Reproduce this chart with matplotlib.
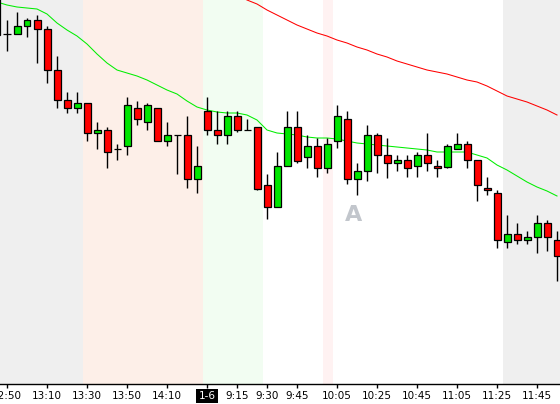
import matplotlib
matplotlib.use("Agg")
import matplotlib.pyplot as plt
import numpy as np

# 5 minute bars, index -1 is the half-hidden bar at the left edge
opens  = [4008, 3966, 3966, 3974, 3980, 3971, 3930, 3900, 3892, 3897, 3867, 3870, 3851, 3854, 3892,
          3878, 3892, 3859, 3865, 3865, 3821, 3889, 3870, 3865, 3884, 3870, 3873, 3815, 3793, 3834,
          3873, 3843, 3854, 3832, 3859, 3881, 3821, 3829, 3865, 3845, 3837, 3840, 3834, 3845, 3834,
          3833, 3851, 3856, 3840, 3812, 3807, 3758, 3766, 3760, 3763, 3777, 3760]
highs  = [4012, 3980, 3988, 3982, 3985, 3974, 3944, 3908, 3908, 3897, 3878, 3873, 3856, 3903, 3899,
          3897, 3892, 3878, 3865, 3884, 3854, 3903, 3889, 3889, 3889, 3881, 3873, 3826, 3848, 3889,
          3889, 3865, 3862, 3862, 3895, 3889, 3837, 3875, 3867, 3862, 3845, 3845, 3848, 3867, 3840,
          3856, 3867, 3859, 3840, 3823, 3810, 3785, 3777, 3769, 3785, 3780, 3769]
lows   = [3965, 3949, 3966, 3963, 3937, 3917, 3892, 3887, 3887, 3859, 3851, 3832, 3840, 3845, 3875,
          3870, 3859, 3854, 3826, 3812, 3807, 3865, 3856, 3856, 3868, 3870, 3810, 3781, 3793, 3834,
          3837, 3832, 3823, 3827, 3852, 3816, 3805, 3819, 3827, 3822, 3829, 3823, 3823, 3829, 3823,
          3832, 3851, 3832, 3799, 3805, 3752, 3752, 3756, 3756, 3747, 3749, 3719]
closes = [3965, 3966, 3974, 3980, 3971, 3930, 3900, 3892, 3897, 3867, 3870, 3848, 3851, 3895, 3881,
          3895, 3859, 3865, 3865, 3821, 3834, 3870, 3865, 3884, 3870, 3870, 3811, 3793, 3834, 3873,
          3839, 3854, 3832, 3856, 3884, 3821, 3829, 3865, 3845, 3837, 3840, 3832, 3845, 3837, 3832,
          3854, 3856, 3840, 3815, 3810, 3760, 3766, 3760, 3763, 3777, 3763, 3744]

ma_fast = [3998, 3995, 3993, 3992, 3991, 3986, 3977, 3970, 3964, 3956, 3946, 3937, 3930, 3927, 3924,
           3920, 3915, 3910, 3906, 3899, 3893, 3890, 3888, 3887, 3887, 3885, 3880, 3870, 3867, 3866,
           3865, 3863, 3862, 3862, 3861, 3859, 3857, 3856, 3855, 3854, 3853, 3852, 3851, 3850, 3848,
           3848, 3848, 3848, 3845, 3842, 3835, 3830, 3824, 3818, 3813, 3809, 3804]
# slow average only shows from bar 23 onward
ma_slow = [4006, 4000, 3996, 3990, 3985, 3980, 3975, 3971, 3967, 3964, 3960, 3957, 3953, 3950, 3946,
           3943, 3939, 3936, 3933, 3930, 3928, 3926, 3923, 3920, 3918, 3914, 3909, 3904, 3901, 3898,
           3894, 3890, 3885]

tick_pos = [0, 4, 8, 12, 16, 20, 23, 26, 29, 33, 37, 41, 45, 49, 53]
tick_labels = ["12:50", "13:10", "13:30", "13:50", "14:10", "1-6", "9:15", "9:30", "9:45",
               "10:05", "10:25", "10:45", "11:05", "11:25", "11:45"]

# session shading (start, end, colour)
bands = [(-0.7, 7.6, "#efefef"), (7.6, 19.6, "#fdefe8"), (19.6, 25.6, "#f2fdf2"),
         (31.6, 32.6, "#fff2f2"), (49.6, 55.3, "#efefef")]

x = np.arange(-1, len(opens) - 1)
o = np.array(opens); h = np.array(highs); l = np.array(lows); c = np.array(closes)

fig = plt.figure(figsize=(5.6, 4.04), dpi=100)
ax = fig.add_axes([0, 20 / 404, 1, 384 / 404])

for a, b, col in bands:
    ax.axvspan(a, b, color=col, lw=0, zorder=0)

ax.plot(x, ma_fast, color="#00ee00", lw=0.75, zorder=1)
ax.plot(x[len(x) - len(ma_slow):], ma_slow, color="#ff0000", lw=0.75, zorder=1)

ax.vlines(x, l, h, color="black", lw=1.0, zorder=2)
colors = np.where(c > o, "#00e600", "#ff0000")
ax.bar(x, c - o, bottom=o, width=0.7, color=colors, edgecolor="black", linewidth=0.9, zorder=3)

ax.text(34.7, 3785, "A", color="#c2c6cc", fontsize=16, fontweight="bold",
        ha="center", va="center", zorder=4)

ax.set_xlim(-0.7, 55.3)
ax.set_ylim(3616, 4000)
ax.set_yticks([])
ax.set_xticks(tick_pos)
ax.set_xticklabels(tick_labels, fontsize=7.5)
ax.tick_params(axis="x", length=3, width=1, pad=2, colors="black")
for lab in ax.get_xticklabels():
    if lab.get_text() == "1-6":
        lab.set_color("white")
        lab.set_bbox(dict(facecolor="black", edgecolor="none", pad=1.5))
for s in ["top", "left", "right"]:
    ax.spines[s].set_visible(False)
ax.spines["bottom"].set_linewidth(1)

fig.savefig("out.png", dpi=100)
